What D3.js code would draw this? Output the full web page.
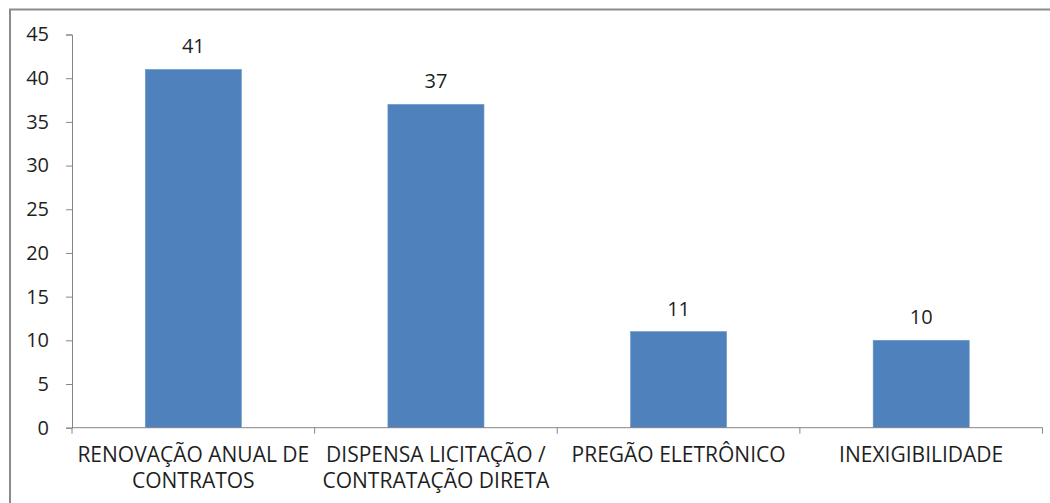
<!DOCTYPE html>
<html>
<head>
<meta charset="utf-8">
<script src="https://cdn.jsdelivr.net/npm/d3@7"></script>
<style>
  body { margin: 0; background: #fff; }
  #chart { width: 1050px; height: 503px; }
  text { font-family: "Open Sans", sans-serif; fill: #1f1f1f; }
</style>
</head>
<body>
<div id="chart"></div>
<script>
/* DATA */
const categories = ["RENOVAÇÃO ANUAL DE CONTRATOS", "DISPENSA LICITAÇÃO / CONTRATAÇÃO DIRETA", "PREGÃO ELETRÔNICO", "INEXIGIBILIDADE"];
const labelLines = [["RENOVAÇÃO ANUAL DE", "CONTRATOS"], ["DISPENSA LICITAÇÃO /", "CONTRATAÇÃO DIRETA"], ["PREGÃO ELETRÔNICO"], ["INEXIGIBILIDADE"]];
const values = [41, 37, 11, 10];
const yTicks = [0, 5, 10, 15, 20, 25, 30, 35, 40, 45];

const width = 1050, height = 503;
const margin = {top: 34.5, left: 72, right: 7.5, bottom: 75.3};

const svg = d3.select("#chart")
    .append("svg")
    .attr("width", width)
    .attr("height", height);

/* outer frame (cut off at right and bottom) */
svg.append("path")
    .attr("d", `M10,${height + 5} V9.5 H${width + 5}`)
    .attr("fill", "none")
    .attr("stroke", "#8c8c8c")
    .attr("stroke-width", 2);

/* SCALES */
const xScale = d3.scaleBand()
    .domain(categories)
    .range([margin.left, width - margin.right])
    .paddingInner(0.604)
    .paddingOuter(0.302);

const yScale = d3.scaleLinear()
    .domain([0, 45])
    .range([height - margin.bottom, margin.top]);

/* Y AXIS */
const yAxis = svg.append("g")
    .attr("transform", `translate(${margin.left},0)`)
    .call(d3.axisLeft(yScale).tickValues(yTicks).tickSize(6).tickPadding(17));
yAxis.select(".domain").attr("stroke", "#868686");
yAxis.selectAll(".tick line").attr("stroke", "#868686");
yAxis.selectAll(".tick text")
    .attr("font-size", 20)
    .attr("font-family", "Open Sans, sans-serif")
    .attr("fill", "#1f1f1f");

/* BARS */
svg.selectAll("rect.bar")
    .data(values)
    .enter()
    .append("rect")
    .attr("class", "bar")
    .attr("x", (d, i) => xScale(categories[i]))
    .attr("y", d => yScale(d))
    .attr("width", xScale.bandwidth())
    .attr("height", d => yScale(0) - yScale(d))
    .attr("fill", "#4f81bd")
    .attr("stroke", "#6a95c8")
    .attr("stroke-width", 0.6);

/* X AXIS */
const x0 = yScale(0);
svg.append("line")
    .attr("x1", margin.left).attr("x2", width - margin.right)
    .attr("y1", x0).attr("y2", x0)
    .attr("stroke", "#868686");

const bounds = categories.map(c => xScale(c) - xScale.step() * xScale.paddingInner() / 2);
bounds.push(width - margin.right);
svg.selectAll("line.xtick")
    .data(bounds)
    .enter()
    .append("line")
    .attr("class", "xtick")
    .attr("x1", d => d).attr("x2", d => d)
    .attr("y1", x0).attr("y2", x0 + 6)
    .attr("stroke", "#868686");

/* CATEGORY LABELS */
labelLines.forEach(function(lines, i) {
    const cx = xScale(categories[i]) + xScale.bandwidth() / 2;
    const t = svg.append("text")
        .attr("text-anchor", "middle")
        .attr("font-size", 21);
    lines.forEach(function(line, j) {
        t.append("tspan")
            .attr("x", cx)
            .attr("y", 462 + j * 26)
            .text(line);
    });
});

/* VALUE LABELS */
svg.selectAll("text.value")
    .data(values)
    .enter()
    .append("text")
    .attr("class", "value")
    .attr("text-anchor", "middle")
    .attr("font-size", 20)
    .attr("x", (d, i) => xScale(categories[i]) + xScale.bandwidth() / 2)
    .attr("y", d => yScale(d) - 16)
    .text(d => d);
</script>
</body>
</html>
